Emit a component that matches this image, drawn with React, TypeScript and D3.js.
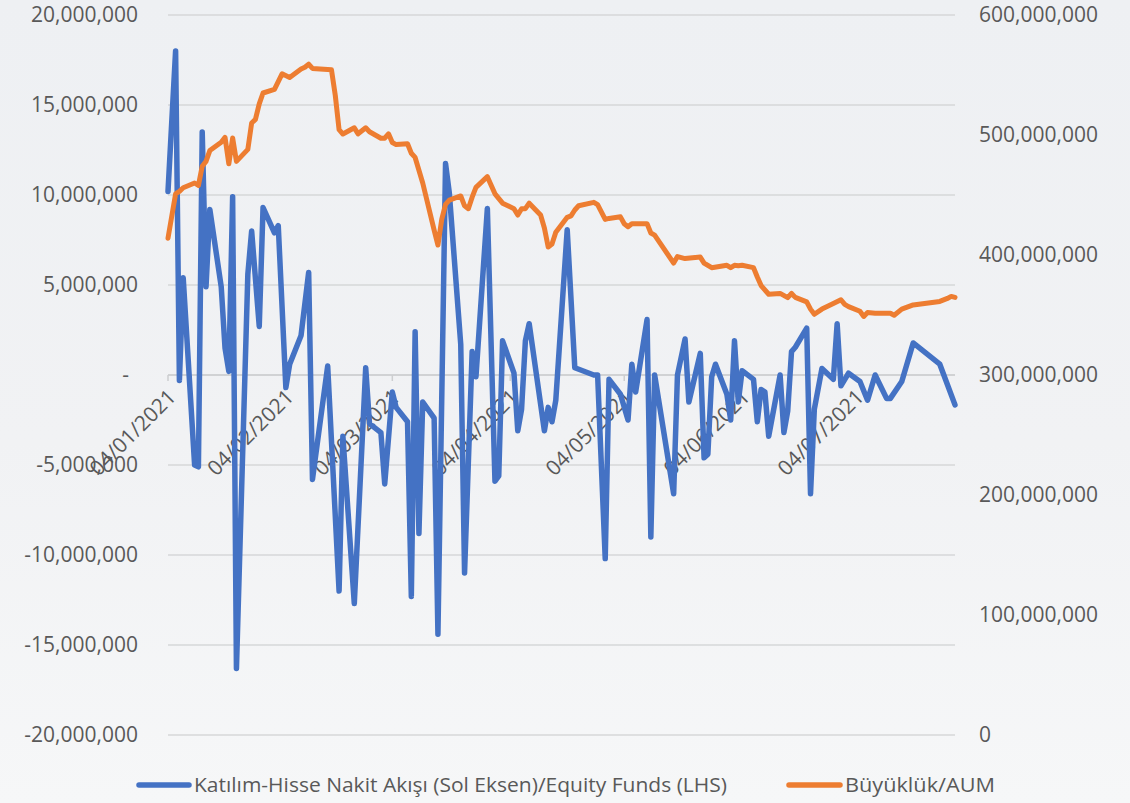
import React from 'react'
import * as d3 from 'd3'

// Katılım-Hisse fund flows (LHS) vs AUM (RHS), daily, 2021
const flowDates = [
  '2021-01-04', '2021-01-06', '2021-01-07', '2021-01-08', '2021-01-11', '2021-01-12', '2021-01-13', '2021-01-14',
  '2021-01-15', '2021-01-18', '2021-01-19', '2021-01-20', '2021-01-21', '2021-01-22', '2021-01-25', '2021-01-26',
  '2021-01-28', '2021-01-29', '2021-02-01', '2021-02-02', '2021-02-04', '2021-02-05', '2021-02-08', '2021-02-10',
  '2021-02-11', '2021-02-15', '2021-02-18', '2021-02-19', '2021-02-22', '2021-02-25', '2021-02-26', '2021-03-01',
  '2021-03-02', '2021-03-04', '2021-03-05', '2021-03-08', '2021-03-09', '2021-03-10', '2021-03-11', '2021-03-12',
  '2021-03-15', '2021-03-16', '2021-03-18', '2021-03-19', '2021-03-22', '2021-03-23', '2021-03-25', '2021-03-26',
  '2021-03-29', '2021-03-31', '2021-04-01', '2021-04-02', '2021-04-05', '2021-04-06', '2021-04-07', '2021-04-08',
  '2021-04-09', '2021-04-13', '2021-04-14', '2021-04-15', '2021-04-16', '2021-04-19', '2021-04-21', '2021-04-26',
  '2021-04-27', '2021-04-29', '2021-04-30', '2021-05-03', '2021-05-05', '2021-05-06', '2021-05-07', '2021-05-10',
  '2021-05-11', '2021-05-12', '2021-05-17', '2021-05-18', '2021-05-20', '2021-05-21', '2021-05-24', '2021-05-25',
  '2021-05-26', '2021-05-27', '2021-05-28', '2021-05-31', '2021-06-01', '2021-06-02', '2021-06-03', '2021-06-04',
  '2021-06-07', '2021-06-08', '2021-06-09', '2021-06-10', '2021-06-11', '2021-06-14', '2021-06-15', '2021-06-16',
  '2021-06-17', '2021-06-18', '2021-06-21', '2021-06-22', '2021-06-23', '2021-06-25', '2021-06-28', '2021-06-29',
  '2021-06-30', '2021-07-02', '2021-07-05', '2021-07-07', '2021-07-09', '2021-07-12', '2021-07-13', '2021-07-16',
  '2021-07-19', '2021-07-26', '2021-07-30'
]
// millions TL
const flowValues = [
  10.2, 18.0, -0.3, 5.4, -5.0, -5.1, 13.5, 4.9,
  9.2, 4.9, 1.5, 0.2, 9.9, -16.3, 5.6, 8.0,
  2.7, 9.3, 7.9, 8.3, -0.7, 0.6, 2.2, 5.7,
  -5.8, 0.5, -12.0, -3.4, -12.7, 0.4, -2.7, -3.2,
  -6.05, -0.95, -1.8, -2.6, -12.3, 2.4, -8.8, -1.5,
  -2.4, -14.4, 11.75, 10.1, 1.7, -11.0, 1.3, -0.1,
  9.25, -5.9, -5.6, 1.9, 0.1, -3.1, -1.9, 1.9,
  2.85, -3.1, -1.8, -2.6, -1.4, 8.07, 0.4, 0.0,
  0.0, -10.2, -0.24, -1.07, -2.5, 0.6, -0.95, 3.08,
  -9.0, 0.0, -6.6, 0.0, 2.0, -1.5, 1.2, -4.6,
  -4.4, -0.1, 0.6, -1.07, -2.5, 1.9, -1.5, 0.24,
  -0.24, -2.6, -0.8, -0.95, -3.4, 0.0, -3.2, -2.0,
  1.3, 1.54, 2.6, -6.6, -1.9, 0.36, -0.24, 2.85,
  -0.6, 0.1, -0.36, -1.4, 0.0, -1.3, -1.3, -0.36,
  1.78, 0.6, -1.66
]

const aumDates = [
  '2021-01-04', '2021-01-06', '2021-01-07', '2021-01-08', '2021-01-11', '2021-01-12', '2021-01-13', '2021-01-14',
  '2021-01-15', '2021-01-18', '2021-01-19', '2021-01-20', '2021-01-21', '2021-01-22', '2021-01-25', '2021-01-26',
  '2021-01-27', '2021-01-28', '2021-01-29', '2021-02-01', '2021-02-03', '2021-02-05', '2021-02-08', '2021-02-09',
  '2021-02-10', '2021-02-11', '2021-02-16', '2021-02-17', '2021-02-18', '2021-02-19', '2021-02-22', '2021-02-23',
  '2021-02-25', '2021-02-26', '2021-03-01', '2021-03-02', '2021-03-03', '2021-03-04', '2021-03-05', '2021-03-08',
  '2021-03-09', '2021-03-10', '2021-03-12', '2021-03-15', '2021-03-16', '2021-03-17', '2021-03-18', '2021-03-19',
  '2021-03-22', '2021-03-23', '2021-03-24', '2021-03-25', '2021-03-26', '2021-03-29', '2021-03-31', '2021-04-02',
  '2021-04-05', '2021-04-06', '2021-04-07', '2021-04-08', '2021-04-09', '2021-04-12', '2021-04-13', '2021-04-14',
  '2021-04-15', '2021-04-16', '2021-04-19', '2021-04-20', '2021-04-21', '2021-04-22', '2021-04-26', '2021-04-27',
  '2021-04-29', '2021-04-30', '2021-05-03', '2021-05-04', '2021-05-05', '2021-05-06', '2021-05-10', '2021-05-11',
  '2021-05-12', '2021-05-17', '2021-05-18', '2021-05-20', '2021-05-24', '2021-05-25', '2021-05-27', '2021-05-31',
  '2021-06-01', '2021-06-02', '2021-06-03', '2021-06-04', '2021-06-07', '2021-06-08', '2021-06-09', '2021-06-11',
  '2021-06-14', '2021-06-16', '2021-06-17', '2021-06-18', '2021-06-21', '2021-06-22', '2021-06-23', '2021-06-25',
  '2021-06-28', '2021-06-30', '2021-07-01', '2021-07-02', '2021-07-05', '2021-07-06', '2021-07-07', '2021-07-09',
  '2021-07-13', '2021-07-14', '2021-07-16', '2021-07-19', '2021-07-26', '2021-07-28', '2021-07-29', '2021-07-30'
]
// millions TL
const aumValues = [
  414, 451, 453, 456, 460, 458, 474, 478,
  487, 494, 498, 476, 497.5, 478, 488, 510,
  513, 526, 535, 538, 551, 548, 555, 556.5,
  559, 555.5, 554.3, 533, 504.4, 500.8, 506, 501,
  506, 502.7, 497.3, 497.3, 501, 493.7, 492, 492.7,
  484.8, 481.3, 460, 420.8, 408.3, 429.7, 442.2, 445.7,
  449.2, 441, 438.6, 448.2, 456.3, 465.3, 451, 443.2,
  438.6, 433.3, 438.6, 438.6, 443.2, 433.3, 422.5, 406.7,
  409.2, 419, 431.4, 432.6, 437.5, 441, 443.9, 442,
  429.7, 430.5, 431.8, 426.1, 423.6, 426.1, 426.1, 418.3,
  416.5, 393.3, 398.7, 397, 398.3, 393.3, 389.4, 391.4,
  389.4, 391.4, 391, 391.4, 389.5, 381.7, 374.5, 367.3,
  368, 364.5, 368, 364.7, 360.9, 354.9, 350.6, 354.9,
  359.5, 362.7, 358.8, 357, 353.1, 348.8, 352, 351.5,
  351.5, 349.8, 354.9, 358.4, 361.3, 363.8, 365.5, 364.7
]

const xTickDates = ['2021-01-04', '2021-02-04', '2021-03-04', '2021-04-04', '2021-05-04', '2021-06-04', '2021-07-04']
const leftTicks = [20e6, 15e6, 10e6, 5e6, 0, -5e6, -10e6, -15e6, -20e6]
const rightTicks = [600e6, 500e6, 400e6, 300e6, 200e6, 100e6, 0]
const seriesNames = ['Katılım-Hisse Nakit Akışı (Sol Eksen)/Equity Funds (LHS)', 'Büyüklük/AUM']
const seriesColors = ['#4472C4', '#ED7D31']

const W = 1130
const H = 803
const plot = { left: 168, right: 955, top: 15, bottom: 735 }
const font = '"Open Sans", "Noto Sans", sans-serif'
const textColor = '#595959'

const parse = d3.timeParse('%Y-%m-%d')
const fmtDate = d3.timeFormat('%d/%m/%Y')
// excel style: plain hyphen for negatives
const fmtNum = d3.formatLocale({ decimal: '.', thousands: ',', grouping: [3], currency: ['', ''], minus: '-' }).format(',')

const App = () => {
  const x = d3
    .scaleTime()
    .domain([parse('2021-01-04'), parse('2021-07-30')])
    .range([plot.left, plot.right])
  const yL = d3.scaleLinear().domain([-20e6, 20e6]).range([plot.bottom, plot.top])
  const yR = d3.scaleLinear().domain([0, 600e6]).range([plot.bottom, plot.top])

  const flow = flowDates.map((d, i) => ({ date: parse(d), value: flowValues[i] * 1e6 }))
  const aum = aumDates.map((d, i) => ({ date: parse(d), value: aumValues[i] * 1e6 }))

  const flowLine = d3.line().x(d => x(d.date)).y(d => yL(d.value))
  const aumLine = d3.line().x(d => x(d.date)).y(d => yR(d.value))

  const zeroY = yL(0)

  return (
    <div style={{ position: 'absolute', left: 0, top: 0 }}>
      <svg width={W} height={H} style={{ display: 'block' }} fontFamily={font}>
        <defs>
          <linearGradient id="bg" x1="0" y1="0" x2="0" y2="1">
            <stop offset="0" stopColor="#EEF0F3" />
            <stop offset="0.55" stopColor="#F1F2F4" />
            <stop offset="1" stopColor="#F6F7F8" />
          </linearGradient>
        </defs>
        <rect width={W} height={H} fill="url(#bg)" />

        {/* gridlines */}
        {leftTicks.map(t => (
          <line key={'g' + t} x1={plot.left} x2={plot.right} y1={yL(t)} y2={yL(t)} stroke="#D6D7D9" strokeWidth={1.5} />
        ))}

        {/* date axis sits on the zero line */}
        <line x1={plot.left} x2={plot.right} y1={zeroY} y2={zeroY} stroke="#CDCED0" strokeWidth={1.5} />
        {xTickDates.map(d => (
          <line key={'t' + d} x1={x(parse(d))} x2={x(parse(d))} y1={zeroY} y2={zeroY + 6} stroke="#CDCED0" strokeWidth={1.5} />
        ))}
        {xTickDates.map(d => {
          const px = x(parse(d)) + 4
          const py = zeroY + 18
          return (
            <text
              key={'xl' + d}
              transform={`translate(${px},${py}) rotate(-45)`}
              textAnchor="end"
              dy="0.35em"
              fontSize={21}
              fill={textColor}
            >
              {fmtDate(parse(d))}
            </text>
          )
        })}

        {/* left axis */}
        {leftTicks.map(t => (
          <text
            key={'l' + t}
            x={t === 0 ? 129 : 138}
            y={yL(t)}
            dy="0.35em"
            textAnchor="end"
            fontSize={21}
            fill={textColor}
          >
            {t === 0 ? '-' : fmtNum(t)}
          </text>
        ))}

        {/* right axis */}
        {rightTicks.map(t => (
          <text key={'r' + t} x={979} y={yR(t)} dy="0.35em" textAnchor="start" fontSize={21} fill={textColor}>
            {fmtNum(t)}
          </text>
        ))}

        {/* series: AUM on secondary axis drawn last */}
        <path
          d={flowLine(flow)}
          fill="none"
          stroke={seriesColors[0]}
          strokeWidth={5.5}
          strokeLinejoin="round"
          strokeLinecap="round"
        />
        <path
          d={aumLine(aum)}
          fill="none"
          stroke={seriesColors[1]}
          strokeWidth={5}
          strokeLinejoin="round"
          strokeLinecap="round"
        />

        {/* legend */}
        <g>
          <line x1={139} x2={189} y1={785} y2={785} stroke={seriesColors[0]} strokeWidth={5.5} strokeLinecap="round" />
          <text x={194} y={785} dy="0.35em" fontSize={20} fill={textColor} textLength={533} lengthAdjust="spacingAndGlyphs">
            {seriesNames[0]}
          </text>
          <line x1={789} x2={840} y1={785} y2={785} stroke={seriesColors[1]} strokeWidth={5.5} strokeLinecap="round" />
          <text x={845} y={785} dy="0.35em" fontSize={20} fill={textColor} textLength={150} lengthAdjust="spacingAndGlyphs">
            {seriesNames[1]}
          </text>
        </g>
      </svg>
    </div>
  )
}

export default App
